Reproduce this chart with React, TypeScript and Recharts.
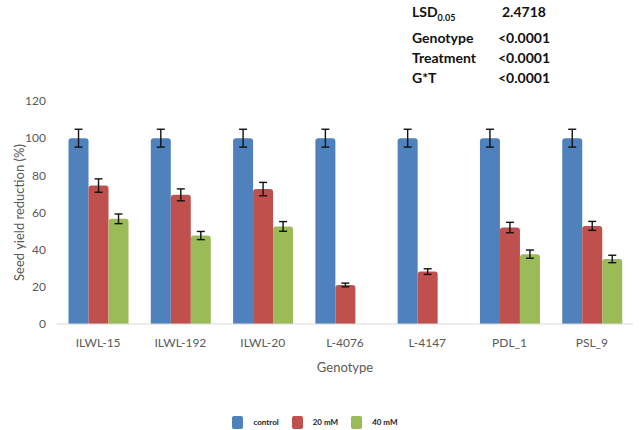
import React from "react"
import { BarChart, Bar, XAxis, YAxis, ErrorBar, Legend } from "recharts"

const genotypes = ["ILWL-15", "ILWL-192", "ILWL-20", "L-4076", "L-4147", "PDL_1", "PSL_9"]
const control = [100, 100, 100, 100, 100, 100, 100]
const controlErr = [4.8, 4.8, 4.8, 4.8, 4.8, 4.8, 4.8]
const mM20 = [74.5, 69.5, 72.6, 21, 28.2, 51.9, 52.8]
const mM20Err = [3.6, 3.2, 3.6, 1.0, 1.5, 2.8, 2.4]
const mM40 = [56.6, 47.6, 52.5, null, null, 37.6, 35]
const mM40Err = [2.6, 2.2, 2.6, null, null, 2.2, 2.0]
const yTicks = [0, 20, 40, 60, 80, 100, 120]

const stats = [
  { name: "Genotype", value: "<0.0001" },
  { name: "Treatment", value: "<0.0001" },
  { name: "G*T", value: "<0.0001" },
]

const series = [
  { key: "control", err: "controlErr", name: "control", color: "#4F81BD" },
  { key: "mM20", err: "mM20Err", name: "20 mM", color: "#C0504D" },
  { key: "mM40", err: "mM40Err", name: "40 mM", color: "#9BBB59" },
]

const data = genotypes.map((g, i) => ({
  genotype: g,
  control: control[i],
  controlErr: controlErr[i],
  mM20: mM20[i],
  mM20Err: mM20Err[i],
  mM40: mM40[i],
  mM40Err: mM40Err[i],
}))

const font = "Lato, 'Open Sans', sans-serif"

function LegendBox() {
  return (
    <div style={{ display: "flex", justifyContent: "center", alignItems: "center", height: 16, fontFamily: font, paddingLeft: 10 }}>
      {series.map((s) => (
        <div key={s.key} style={{ display: "flex", alignItems: "center", marginRight: 13 }}>
          <div style={{ width: 11, height: 13, borderRadius: 2, background: s.color, marginRight: 10 }} />
          <span style={{ fontSize: 8, fontWeight: 700, color: "#222" }}>{s.name}</span>
        </div>
      ))}
    </div>
  )
}

export default function App() {
  return (
    <div style={{ position: "fixed", left: 0, top: 0, width: 643, height: 430, background: "#fff" }}>
      <div style={{ position: "absolute", left: 412, top: 2, fontFamily: font, fontWeight: 700, fontSize: 14, color: "#111", lineHeight: "20px", zIndex: 2 }}>
        <div style={{ display: "flex" }}>
          <span style={{ width: 90 }}>
            LSD<sub style={{ fontSize: 9 }}>0.05</sub>
          </span>
          <span>2.4718</span>
        </div>
        {stats.map((s) => (
          <div key={s.name} style={{ display: "flex" }}>
            <span style={{ width: 86 }}>{s.name}</span>
            <span>{s.value}</span>
          </div>
        ))}
      </div>
      <BarChart
        width={643}
        height={430}
        data={data}
        margin={{ top: 101, right: 10, left: 0, bottom: 0 }}
        barCategoryGap="14%"
        barGap={0}
      >
        <XAxis
          dataKey="genotype"
          height={90}
          tickLine={false}
          axisLine={{ stroke: "#D9D9D9" }}
          tickMargin={8}
          tick={{ fill: "#595959", fontSize: 12, fontFamily: font }}
          label={{ value: "Genotype", position: "insideBottom", offset: 42, fill: "#595959", fontSize: 13, fontFamily: font }}
        />
        <YAxis
          width={57}
          domain={[0, 120]}
          ticks={yTicks}
          axisLine={false}
          tickLine={false}
          tickMargin={5}
          tick={{ fill: "#595959", fontSize: 12, fontFamily: font }}
          label={{ value: "Seed yield reduction (%)", angle: -90, position: "insideLeft", offset: 19, style: { textAnchor: "middle" }, fill: "#595959", fontSize: 13, fontFamily: font }}
        />
        <Legend verticalAlign="bottom" content={() => <LegendBox />} />
        {series.map((s) => (
          <Bar key={s.key} dataKey={s.key} name={s.name} fill={s.color} radius={[3, 3, 0, 0]} isAnimationActive={false}>
            <ErrorBar dataKey={s.err} width={4} stroke="#111" strokeWidth={1.4} />
          </Bar>
        ))}
      </BarChart>
    </div>
  )
}
